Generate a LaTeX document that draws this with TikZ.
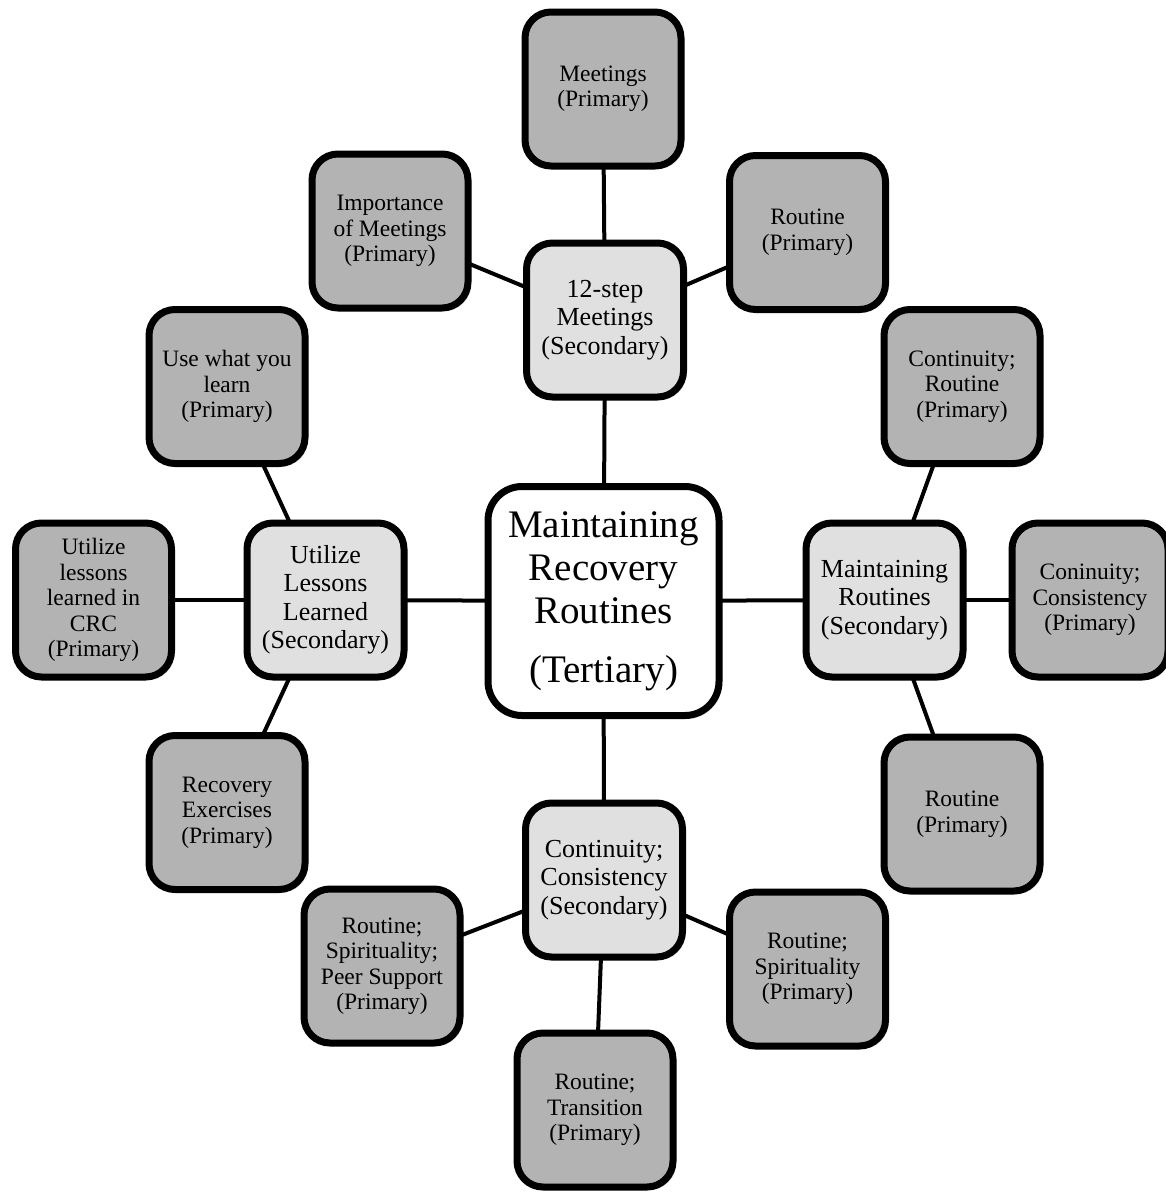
\documentclass[tikz,border=0pt]{standalone}
\usepackage{fontspec}
\setmainfont{Liberation Serif}
\usetikzlibrary{backgrounds,shadows}
\definecolor{primfill}{HTML}{B3B3B3}
\definecolor{secfill}{HTML}{E0E0E0}
\tikzset{
  basebox/.style={draw=black, line width=7pt, rounded corners=26pt, align=center, inner sep=0pt,
    drop shadow={opacity=0.25, shadow xshift=3pt, shadow yshift=-3pt}},
  primbox/.style={basebox, fill=primfill, minimum width=156pt, minimum height=154pt,
    font=\fontsize{23.5}{25.5}\selectfont},
  secbox/.style={basebox, fill=secfill, minimum width=157pt, minimum height=154pt,
    font=\fontsize{26}{28.5}\selectfont},
  tertbox/.style={basebox, fill=white, minimum width=231pt, minimum height=229pt, rounded corners=34pt,
    font=\fontsize{39}{43}\selectfont},
  link/.style={line width=4pt, black}
}
\begin{document}
\begin{tikzpicture}[x=1pt,y=-1pt]
\useasboundingbox (0,0) rectangle (1165,1194);
\node[tertbox] (c) at (603.5,601) {Maintaining\\Recovery\\Routines\\[16pt](Tertiary)};
\node[secbox] (s1) at (605,320) {12-step\\Meetings\\(Secondary)};
\node[secbox] (s2) at (884.5,600) {Maintaining\\Routines\\(Secondary)};
\node[secbox] (s3) at (604,880) {Continuity;\\Consistency\\(Secondary)};
\node[secbox] (s4) at (325.5,600) {Utilize\\Lessons\\Learned\\(Secondary)};
\node[primbox] (p1) at (603,89) {Meetings\\(Primary)};
\node[primbox] (p2) at (390,231) {Importance\\of Meetings\\(Primary)};
\node[primbox] (p3) at (807.5,232.5) {Routine\\(Primary)};
\node[primbox] (p4) at (962,386.5) {Continuity;\\Routine\\(Primary)};
\node[primbox] (p5) at (1090,600) {Coninuity;\\Consistency\\(Primary)};
\node[primbox] (p6) at (962,814) {Routine\\(Primary)};
\node[primbox] (p7) at (807.5,969) {Routine;\\Spirituality\\(Primary)};
\node[primbox] (p8) at (595,1110) {Routine;\\Transition\\(Primary)};
\node[primbox] (p9) at (382,966) {Routine;\\Spirituality;\\Peer Support\\(Primary)};
\node[primbox] (p10) at (227,812.5) {Recovery\\Exercises\\(Primary)};
\node[primbox] (p11) at (93.5,600) {Utilize\\lessons\\learned in\\CRC\\(Primary)};
\node[primbox] (p12) at (227,386.5) {Use what you\\learn\\(Primary)};
\begin{scope}[on background layer]
\draw[link] (c.center) -- (s1.center);
\draw[link] (c.center) -- (s2.center);
\draw[link] (c.center) -- (s3.center);
\draw[link] (c.center) -- (s4.center);
\draw[link] (s1.center) -- (p1.center);
\draw[link] (s1.center) -- (p2.center);
\draw[link] (s1.center) -- (p3.center);
\draw[link] (s2.center) -- (p4.center);
\draw[link] (s2.center) -- (p5.center);
\draw[link] (s2.center) -- (p6.center);
\draw[link] (s3.center) -- (p7.center);
\draw[link] (s3.center) -- (p8.center);
\draw[link] (s3.center) -- (p9.center);
\draw[link] (s4.center) -- (p10.center);
\draw[link] (s4.center) -- (p11.center);
\draw[link] (s4.center) -- (p12.center);
\end{scope}
\end{tikzpicture}
\end{document}
